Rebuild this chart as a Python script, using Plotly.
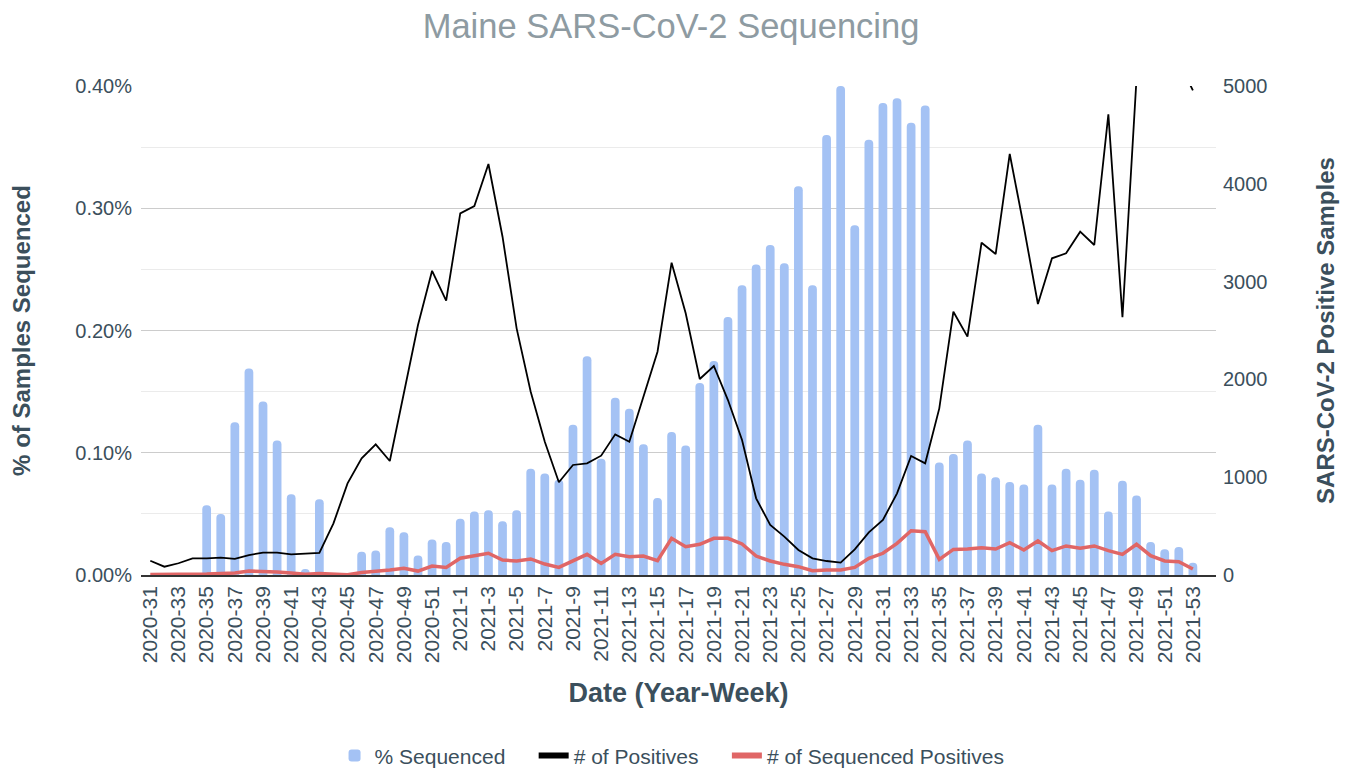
import plotly.graph_objects as go

weeks = [f"2020-{w}" for w in range(31, 53)] + [f"2021-{w}" for w in range(1, 54)]

pct_sequenced = [
    0, 0, 0, 0, 0.057, 0.050, 0.125, 0.169, 0.142, 0.110,
    0.066, 0.005, 0.062, 0, 0, 0.019, 0.020, 0.039, 0.035, 0.016,
    0.029, 0.027, 0.046, 0.052, 0.053, 0.044, 0.053, 0.087, 0.083, 0.078,
    0.123, 0.179, 0.095, 0.145, 0.136, 0.107, 0.063, 0.117, 0.106, 0.157,
    0.175, 0.211, 0.237, 0.254, 0.270, 0.255, 0.318, 0.237, 0.360, 0.400,
    0.286, 0.356, 0.386, 0.390, 0.370, 0.384, 0.092, 0.099, 0.110, 0.083,
    0.080, 0.076, 0.074, 0.123, 0.074, 0.087, 0.078, 0.086, 0.052, 0.077,
    0.065, 0.027, 0.021, 0.023, 0.010,
]

positives = [
    146, 85, 120, 171, 171, 177, 164, 204, 228, 228,
    211, 221, 225, 528, 937, 1193, 1336, 1166, 1858, 2556,
    3110, 2805, 3698, 3773, 4202, 3459, 2522, 1874, 1363, 948,
    1125, 1142, 1220, 1438, 1363, 1823, 2283, 3193, 2676, 2004,
    2137, 1789, 1380, 784, 511, 392, 256, 171, 143, 126,
    262, 436, 562, 835, 1217, 1142, 1704, 2692, 2437, 3398,
    3282, 4305, 3561, 2771, 3238, 3289, 3510, 3374, 4710, 2635,
    5080, 5600, 5700, 5250, 4955,
]

seq_positives = [
    5, 5, 5, 8, 10, 15, 20, 40, 38, 30,
    20, 8, 15, 5, 3, 25, 35, 50, 68, 40,
    92, 78, 171, 197, 222, 153, 143, 164, 112, 78,
    146, 211, 119, 211, 187, 194, 146, 375, 290, 314,
    375, 375, 317, 194, 143, 109, 85, 44, 51, 51,
    78, 171, 222, 324, 453, 443, 160, 262, 266, 279,
    266, 331, 256, 348, 249, 297, 273, 297, 249, 211,
    314, 197, 143, 136, 61,
]

BLUE = "#a4c2f4"
RED = "#e06666"
TEXT = "#3b4f5c"
FONT = "Liberation Sans, Arial, sans-serif"
PAD = "\u00a0" * 4  # spacing between legend entries

fig = go.Figure()
fig.add_trace(go.Bar(x=weeks, y=pct_sequenced, name="% Sequenced" + PAD,
                     marker=dict(color=BLUE, line=dict(width=0)), width=0.62,
                     yaxis="y"))
fig.add_trace(go.Scatter(x=weeks, y=positives, name="# of Positives", mode="lines",
                         line=dict(color="#000000", width=1.8), yaxis="y2",
                         showlegend=False))
fig.add_trace(go.Scatter(x=weeks, y=seq_positives, name="# of Sequenced Positives",
                         mode="lines", line=dict(color=RED, width=3.5), yaxis="y2",
                         showlegend=False))
# legend-only entries with thick swatches
fig.add_trace(go.Scatter(x=[None], y=[None], name="# of Positives" + PAD, mode="lines",
                         line=dict(color="#000000", width=6), yaxis="y2"))
fig.add_trace(go.Scatter(x=[None], y=[None], name="# of Sequenced Positives", mode="lines",
                         line=dict(color=RED, width=6), yaxis="y2"))

fig.update_layout(
    width=1340, height=762,
    margin=dict(l=133, r=132, t=78, b=195, autoexpand=False),
    paper_bgcolor="white", plot_bgcolor="white",
    font=dict(family=FONT, color=TEXT, size=20),
    barcornerradius=4,
    title=dict(text="Maine SARS-CoV-2 Sequencing", x=0.4948, xanchor="center",
               y=0.976, yanchor="middle",
               font=dict(size=34.5, color="#8e9ba2", family=FONT)),
    xaxis=dict(
        type="category", range=[-0.66, 75.64], automargin=False,
        tickmode="array", tickvals=weeks[::2], ticktext=weeks[::2],
        tickangle=-90, tickfont=dict(size=21, color=TEXT), ticklabelstandoff=1,
        showline=True, linecolor="#333333", linewidth=1.5,
        showgrid=False, ticks="",
        title=dict(text="<b>Date (Year-Week)</b>", font=dict(size=27, color=TEXT), standoff=21),
    ),
    yaxis=dict(
        range=[0, 0.40], dtick=0.1, tickformat=".2f", ticksuffix="%", automargin=False,
        showgrid=True, gridcolor="#cccccc", gridwidth=1,
        minor=dict(dtick=0.05, showgrid=True, gridcolor="#ebebeb", gridwidth=1),
        zeroline=False, showline=False, ticks="", ticklabelstandoff=8,
        tickfont=dict(size=20, color=TEXT),
        title=dict(text="<b>% of Samples Sequenced</b>", font=dict(size=24, color=TEXT), standoff=45),
    ),
    yaxis2=dict(
        range=[0, 5000], dtick=1000, overlaying="y", side="right", automargin=False,
        showgrid=False, zeroline=False, showline=False, ticks="", ticklabelstandoff=6,
        tickfont=dict(size=20, color=TEXT),
        title=dict(text="<b>SARS-CoV-2 Positive Samples</b>", font=dict(size=24, color=TEXT), standoff=50),
    ),
    legend=dict(orientation="h", x=0.494, xanchor="center", y=-0.37, yanchor="middle",
                font=dict(size=21, color=TEXT), traceorder="normal"),
    bargap=0.38,
)

fig.write_html("out.html")
